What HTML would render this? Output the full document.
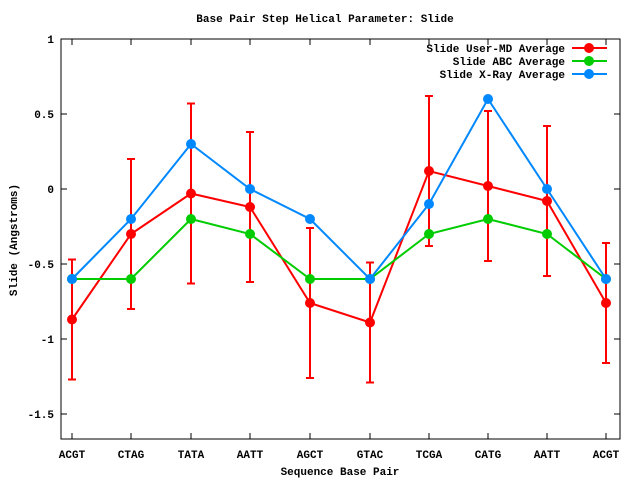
<!DOCTYPE html>
<html><head><meta charset="utf-8"><style>
body{margin:0;background:#fff}
svg{display:block}
text{font-family:"Liberation Mono","DejaVu Sans Mono",monospace;font-size:11px;font-weight:bold;fill:#000}
</style></head><body>
<svg id="s" width="640" height="480" xmlns="http://www.w3.org/2000/svg">
<rect width="640" height="480" fill="#fff"/>
</svg>
<script>
var s=document.getElementById('s'),NS="http://www.w3.org/2000/svg";
function el(t,a,txt){var e=document.createElementNS(NS,t);for(var k in a)e.setAttribute(k,a[k]);if(txt!=null)e.textContent=txt;s.appendChild(e);return e;}
var L=61,R=620,T=39,B=439;
function Y(v){return 189-150*v;}
var xs=[72,131,191,250,310,370,429,488,547,606];
var labs=["ACGT","CTAG","TATA","AATT","AGCT","GTAC","TCGA","CATG","AATT","ACGT"];
[1,0.5,0,-0.5,-1,-1.5].forEach(function(v){var y=Y(v);
 el('line',{x1:L,y1:y,x2:L+6,y2:y,stroke:'#000'});el('line',{x1:R,y1:y,x2:R-6,y2:y,stroke:'#000'});
 el('text',{x:L-7,y:y+4,'text-anchor':'end'},String(v));});
xs.forEach(function(x,i){el('line',{x1:x,y1:B,x2:x,y2:B-6,stroke:'#000'});el('line',{x1:x,y1:T,x2:x,y2:T+6,stroke:'#000'});
 el('text',{x:x,y:B+19,'text-anchor':'middle'},labs[i]);});
el('rect',{x:L,y:T,width:R-L,height:B-T,fill:'none',stroke:'#000'});
el('text',{x:325,y:22,'text-anchor':'middle'},"Base Pair Step Helical Parameter: Slide");
el('text',{x:340,y:475,'text-anchor':'middle'},"Sequence Base Pair");
el('text',{x:17,y:240,'text-anchor':'middle',transform:'rotate(-90 17 240)'},"Slide (Angstroms)");
var red=[-0.87,-0.3,-0.03,-0.12,-0.76,-0.89,0.12,0.02,-0.08,-0.76];
var err=[0.4,0.5,0.6,0.5,0.5,0.4,0.5,0.5,0.5,0.4];
var green=[-0.6,-0.6,-0.2,-0.3,-0.6,-0.6,-0.3,-0.2,-0.3,-0.6];
var blue=[-0.6,-0.2,0.3,0,-0.2,-0.6,-0.1,0.6,0,-0.6];
function series(d,c){el('polyline',{points:d.map(function(v,i){return xs[i]+','+Y(v)}).join(' '),fill:'none',stroke:c,'stroke-width':2});
 d.forEach(function(v,i){el('circle',{cx:xs[i],cy:Y(v),r:5,fill:c});});}
red.forEach(function(v,i){var x=xs[i],a=Y(v+err[i]),b=Y(v-err[i]);
 el('line',{x1:x,y1:a,x2:x,y2:b,stroke:'#f00','stroke-width':2});
 el('line',{x1:x-4,y1:a,x2:x+4,y2:a,stroke:'#f00','stroke-width':2});
 el('line',{x1:x-4,y1:b,x2:x+4,y2:b,stroke:'#f00','stroke-width':2});});
series(red,'#f00');series(green,'#0c0');series(blue,'#08f');
[["Slide User-MD Average",'#f00'],["Slide ABC Average",'#0c0'],["Slide X-Ray Average",'#08f']].forEach(function(l,i){var y=48+13*i;
 el('text',{x:565,y:y+4,'text-anchor':'end'},l[0]);
 el('line',{x1:572,y1:y,x2:607,y2:y,stroke:l[1],'stroke-width':2});
 el('circle',{cx:589,cy:y,r:5,fill:l[1]});});
</script>
</body></html>
